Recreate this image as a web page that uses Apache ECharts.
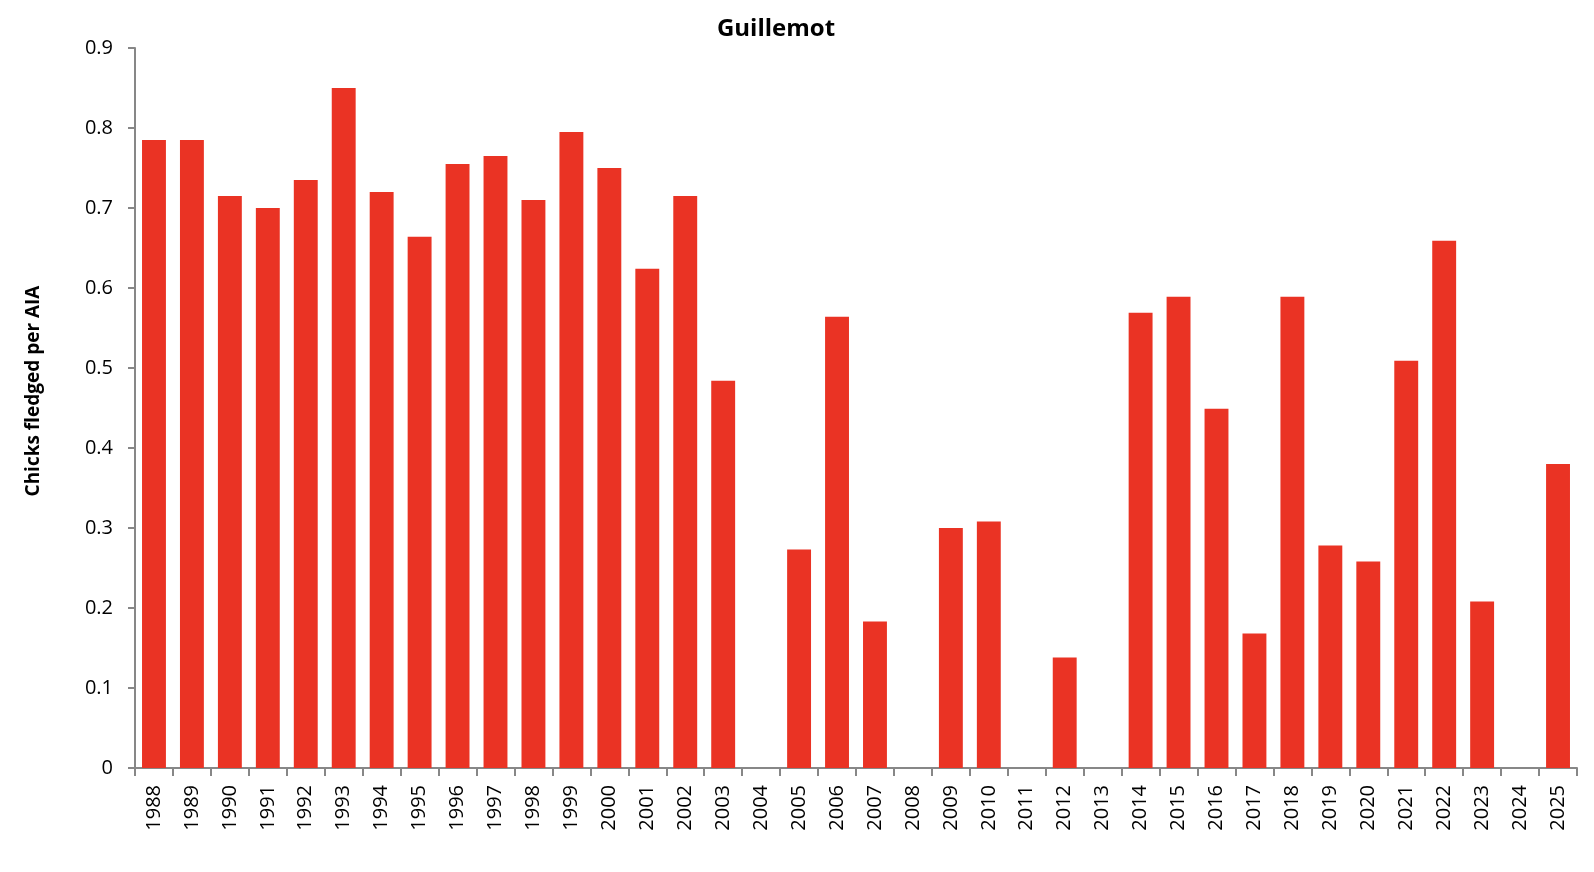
<!DOCTYPE html>
<html>
<head>
  <meta charset="utf-8">
  <title>Guillemot</title>
  <script src="https://cdn.jsdelivr.net/npm/echarts@6/dist/echarts.min.js"></script>
  <style>
    html, body { margin: 0; padding: 0; background: #ffffff; }
    #main { width: 1594px; height: 872px; }
  </style>
</head>
<body>
<div id="main"></div>
<script type="text/javascript">
// breeding years
var years = ['1988', '1989', '1990', '1991', '1992', '1993', '1994', '1995', '1996', '1997',
  '1998', '1999', '2000', '2001', '2002', '2003', '2004', '2005', '2006', '2007',
  '2008', '2009', '2010', '2011', '2012', '2013', '2014', '2015', '2016', '2017',
  '2018', '2019', '2020', '2021', '2022', '2023', '2024', '2025'];

// chicks fledged per AIA, null = no data
var fledged = [0.785, 0.785, 0.715, 0.70, 0.735, 0.85, 0.72, 0.664, 0.755, 0.765,
  0.71, 0.795, 0.75, 0.624, 0.715, 0.484, null, 0.273, 0.564, 0.183,
  null, 0.30, 0.308, null, 0.138, null, 0.569, 0.589, 0.449, 0.168,
  0.589, 0.278, 0.258, 0.509, 0.659, 0.208, null, 0.38];

var yTicks = { min: 0, max: 0.9, step: 0.1 };

var myChart = echarts.init(document.getElementById('main'));

var fontName = 'Open Sans';
var axisGrey = '#878787';

var option = {
  backgroundColor: '#ffffff',
  animation: false,
  title: {
    text: 'Guillemot',
    left: 771,
    top: 12,
    textAlign: 'center',
    textStyle: {
      fontFamily: fontName,
      fontSize: 24,
      fontWeight: 'bold',
      color: '#000000'
    }
  },
  grid: {
    left: 135,
    right: 17,
    top: 48,
    bottom: 104
  },
  xAxis: {
    type: 'category',
    data: years,
    axisLine: { lineStyle: { color: axisGrey, width: 2 } },
    axisTick: {
      show: true,
      alignWithLabel: false,
      length: 8,
      lineStyle: { color: axisGrey, width: 2 }
    },
    axisLabel: {
      interval: 0,
      rotate: 90,
      margin: 17,
      fontFamily: fontName,
      fontSize: 20,
      color: '#000000'
    }
  },
  yAxis: {
    type: 'value',
    min: yTicks.min,
    max: yTicks.max,
    interval: yTicks.step,
    name: 'Chicks fledged per AIA',
    nameLocation: 'middle',
    nameGap: 92,
    nameTextStyle: {
      fontFamily: fontName,
      fontSize: 19,
      fontWeight: 'bold',
      color: '#000000',
      padding: [0, 0, 0, 34]
    },
    splitLine: { show: false },
    axisLine: { show: true, lineStyle: { color: axisGrey, width: 2 } },
    axisTick: {
      show: true,
      length: 7,
      lineStyle: { color: axisGrey, width: 2 }
    },
    axisLabel: {
      margin: 22,
      fontFamily: fontName,
      fontSize: 20,
      color: '#000000',
      formatter: function (v) {
        return String(Math.round(v * 10) / 10);
      }
    }
  },
  series: [{
    type: 'bar',
    data: fledged,
    barCategoryGap: '37%',
    itemStyle: { color: '#EA3324' }
  }]
};

myChart.setOption(option);
</script>
</body>
</html>
